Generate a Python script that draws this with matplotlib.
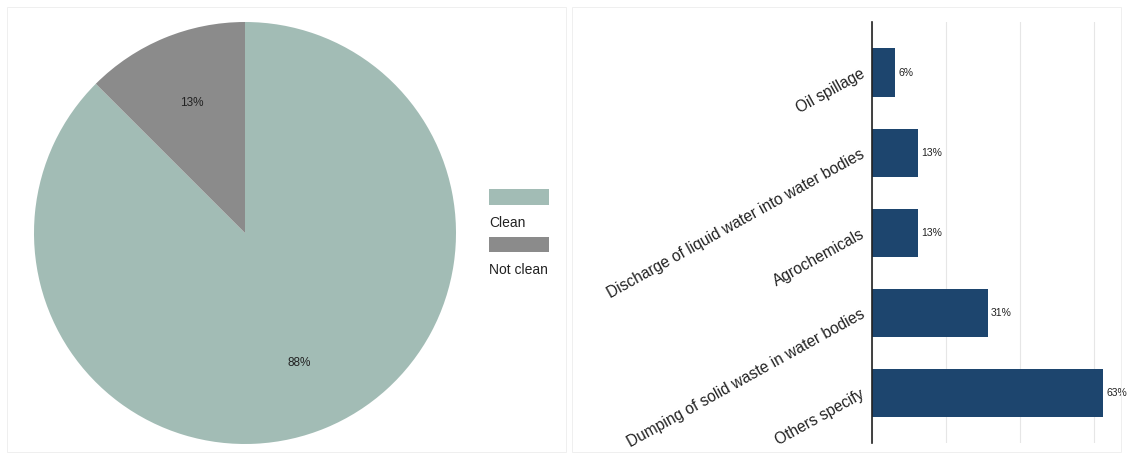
import matplotlib.pyplot as plt
from matplotlib.patches import Rectangle

plt.rcParams['font.family'] = ['Liberation Sans', 'DejaVu Sans']

# pie data (share of respondents, %)
pie_labels = ['Clean', 'Not clean']
pie_values = [87.5, 12.5]
pie_colors = ['#a2bcb5', '#8b8b8b']

# bar data (%)
bar_labels = ['Oil spillage',
              'Discharge of liquid water into water bodies',
              'Agrochemicals',
              'Dumping of solid waste in water bodies',
              'Others specify']
bar_values = [6.25, 12.5, 12.5, 31.25, 62.5]
bar_color = '#1d456e'

W, H = 1127, 455


def box(x0, y0, x1, y1):
    # pixel box (top-left origin) -> figure fraction rect
    return [x0 / W, 1 - y1 / H, (x1 - x0) / W, (y1 - y0) / H]


def pct(v):
    return f"{int(v + 0.5)}%"


fig = plt.figure(figsize=(W / 100, H / 100), dpi=100)

# faint panel frames
for x0, x1 in [(7, 566), (572, 1121)]:
    fig.add_artist(Rectangle((x0 / W, 1 - 452 / H), (x1 - x0) / W, 445 / H,
                             transform=fig.transFigure, fill=False,
                             edgecolor='#efefef', linewidth=0.7))

# ---- pie ----
ax1 = fig.add_axes(box(34, 22, 456, 444))
wedges, texts, autotexts = ax1.pie(pie_values, colors=pie_colors, startangle=135,
                                   counterclock=True, autopct=pct, pctdistance=0.665,
                                   textprops={'fontsize': 8.5, 'color': '#222222'})
ax1.set_xlim(-1.0, 1.0)
ax1.set_ylim(-1.0, 1.0)
ax1.set_aspect('equal')

# legend: colour box above its label
leg_y = [(189, 205, 223), (237, 252, 270)]
for (y0, y1, ty), lab, col in zip(leg_y, pie_labels, pie_colors):
    fig.add_artist(Rectangle((489 / W, 1 - y1 / H), 60 / W, (y1 - y0) / H,
                             transform=fig.transFigure, facecolor=col, edgecolor='none'))
    fig.text(489 / W, 1 - ty / H, lab, fontsize=10, va='center', ha='left', color='#222222')

# ---- bars ----
ax2 = fig.add_axes(box(872, 22, 1122, 443))
pos = list(range(len(bar_values)))
bars = ax2.barh(pos, bar_values, height=0.6, color=bar_color)
ax2.set_ylim(4.62, -0.63)
ax2.set_xlim(0, 67.6)
ax2.set_xticks([0, 20, 40, 60])
ax2.set_xticklabels([])
ax2.tick_params(length=0)
ax2.grid(axis='x', color='#e6e6e6', linewidth=0.8)
ax2.set_axisbelow(True)
for s in ['top', 'right', 'bottom']:
    ax2.spines[s].set_visible(False)
ax2.spines['left'].set_color('#222222')
ax2.spines['left'].set_linewidth(1.2)

ax2.set_yticks(pos)
ax2.set_yticklabels(bar_labels, rotation=29, ha='right', va='center',
                    rotation_mode='anchor', fontsize=11.2, color='#222222')
ax2.tick_params(axis='y', pad=6)

for b, v in zip(bars, bar_values):
    ax2.text(b.get_width() + 0.9, b.get_y() + b.get_height() / 2, pct(v),
             va='center', ha='left', fontsize=7.5, color='#222222', clip_on=False)

fig.savefig('out.png', dpi=100)
